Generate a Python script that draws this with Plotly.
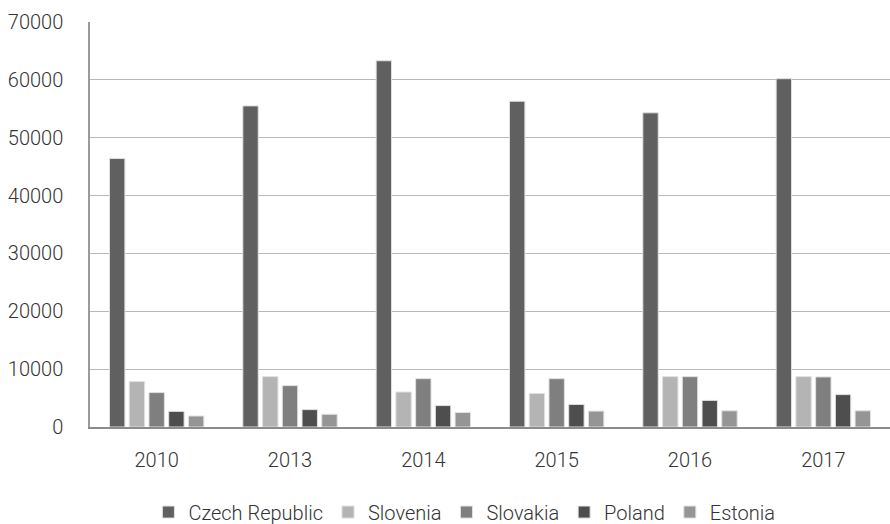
import plotly.graph_objects as go

years = ["2010", "2013", "2014", "2015", "2016", "2017"]
czech = [46400, 55500, 63300, 56300, 54300, 60200]
slovenia = [7850, 8700, 6050, 5800, 8700, 8700]
slovakia = [5950, 7150, 8350, 8350, 8700, 8650]
poland = [2700, 3000, 3700, 3900, 4600, 5600]
estonia = [1900, 2200, 2500, 2750, 2800, 2800]

series = [
    ("Czech Republic", czech, "#606060"),
    ("Slovenia", slovenia, "#b4b4b4"),
    ("Slovakia", slovakia, "#7f7f7f"),
    ("Poland", poland, "#4e4e4e"),
    ("Estonia", estonia, "#959595"),
]

FONT = "Roboto, sans-serif"
TXT = dict(family=FONT, size=20, color="#333333", weight=300)

fig = go.Figure()
for name, vals, color in series:
    fig.add_trace(go.Bar(
        x=years, y=vals, name=name,
        marker=dict(color=color, line=dict(color="#e0e0e0", width=1)),
    ))

fig.update_layout(
    width=890, height=524,
    margin=dict(l=90, r=0, t=22, b=97, autoexpand=False),
    paper_bgcolor="white", plot_bgcolor="white",
    barmode="group", bargap=0.26, bargroupgap=0.22,
    font=TXT,
    showlegend=True,
    legend=dict(orientation="h", x=0.468, xanchor="center", y=-0.21, yanchor="middle",
                font=TXT, itemwidth=30, traceorder="normal"),
    xaxis=dict(type="category", showline=True, linecolor="#8c8c8c", linewidth=2,
               ticks="", tickfont=TXT, showgrid=False, ticklabelstandoff=14),
    yaxis=dict(range=[0, 70000], dtick=10000, tickformat="d", showline=True,
               linecolor="#9a9a9a", linewidth=1.5, gridcolor="#b8b8b8", gridwidth=1,
               zeroline=False, ticks="", tickfont=TXT, ticklabelstandoff=21),
)

fig.write_html("out.html")
